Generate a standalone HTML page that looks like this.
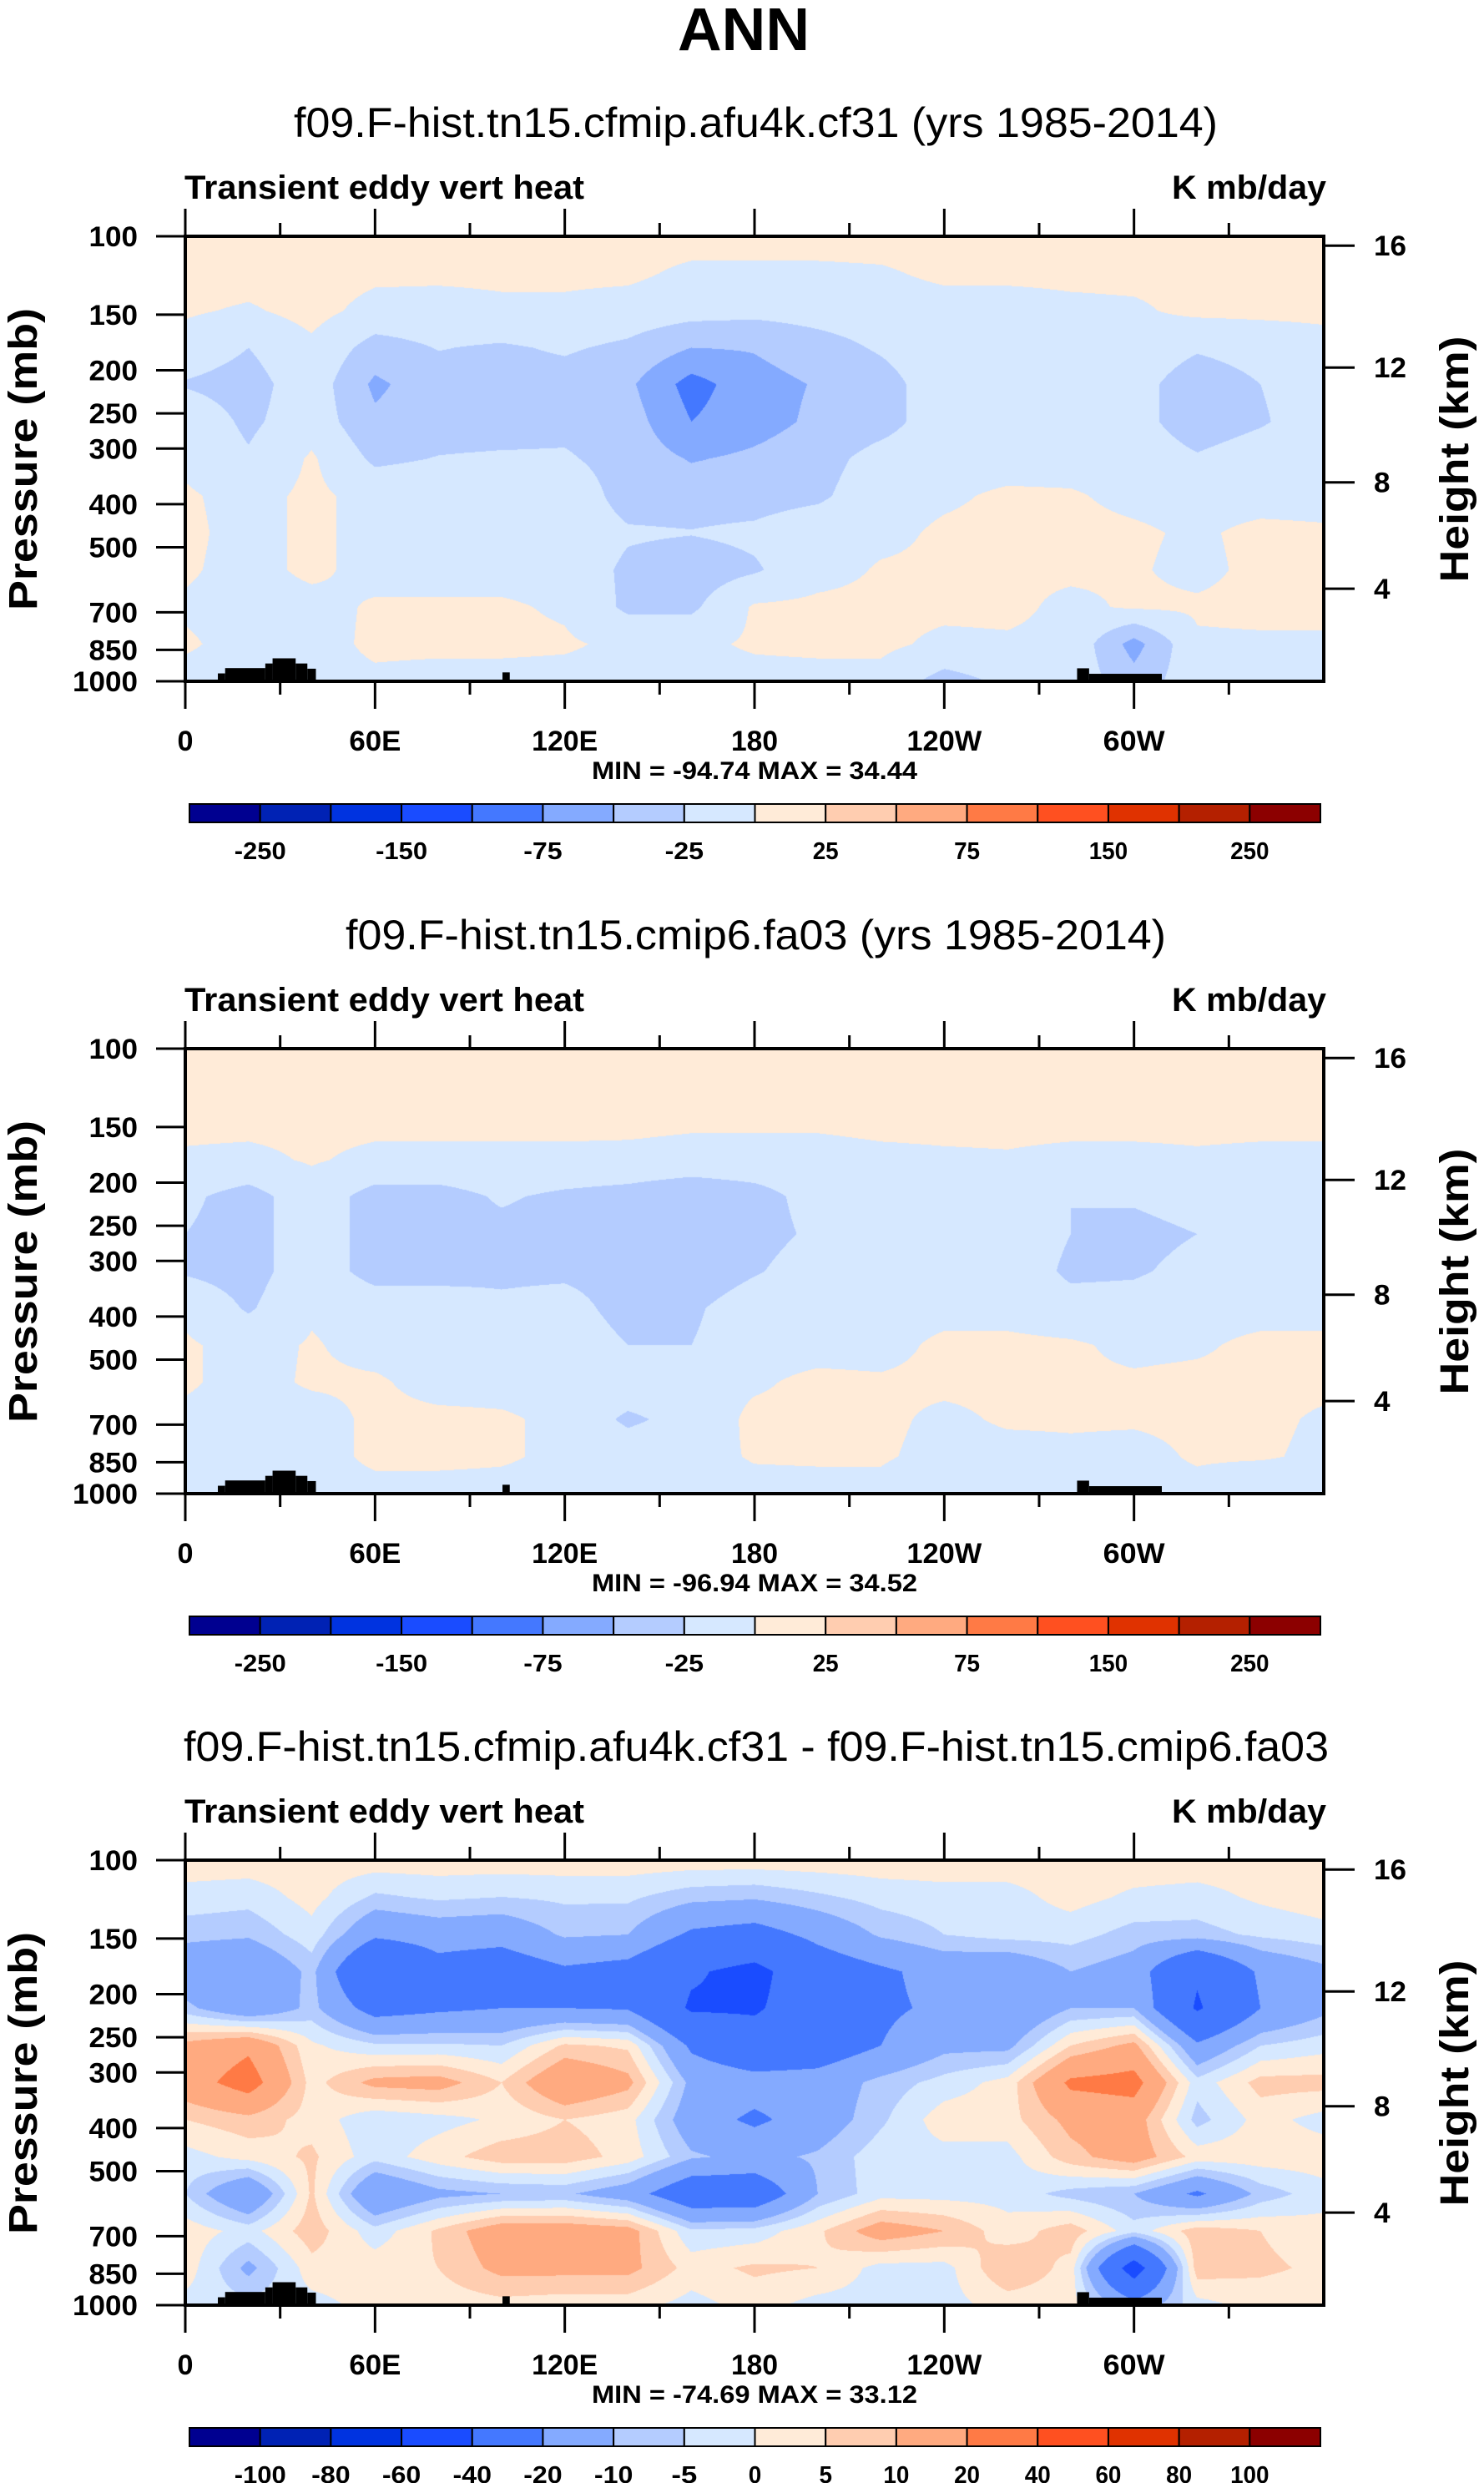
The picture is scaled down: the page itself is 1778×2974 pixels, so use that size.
<!DOCTYPE html>
<html><head><meta charset="utf-8">
<style>
html,body{margin:0;padding:0;background:#fff;}
#root{position:relative;width:1778px;height:2974px;overflow:hidden;background:#fff;}
canvas{position:absolute;}
svg{position:absolute;left:0;top:0;}
</style></head>
<body>
<div id="root">
<canvas id="c0" width="1364" height="533" style="left:222px;top:283px"></canvas>
<canvas id="c1" width="1364" height="533" style="left:222px;top:1256px"></canvas>
<canvas id="c2" width="1364" height="533" style="left:222px;top:2228px"></canvas>
<svg id="ov" width="1778" height="2974" xmlns="http://www.w3.org/2000/svg" font-family="'Liberation Sans', sans-serif">
<text x="891" y="60" text-anchor="middle" font-size="72" font-weight="bold" textLength="158" lengthAdjust="spacingAndGlyphs">ANN</text>
</svg>
</div>
<script>
// ---- data ----
const lons = [0,20,40,60,80,100,120,140,160,180,200,220,240,260,280,300,320,340,360];
const pres = [100,121,147,178,215,261,316,383,464,562,681,825,1000];
const levelsAbs = [-250,-200,-150,-100,-75,-50,-25,0,25,50,75,100,150,200,250];
const levelsDiff = [-100,-80,-60,-40,-20,-10,-5,0,5,10,20,40,60,80,100];
const colors = ["#000090","#0022b4","#0033e0","#1a4cff","#4478ff","#84aaff","#b4ccff","#d6e8ff","#ffebd8","#ffcdb0","#ffaa80","#ff7a45","#ff5020","#e03200","#b42000","#8c0000"];
const field1 = [
[10,10,10,10,10,10,10,10,10,10,10,10,10,10,10,10,10,10,10],
[10,10,10,5,5,5,5,5,-5,-5,-5,-3,5,5,5,5,5,5,10],
[3,-3,8,-8,-10,-5,-5,-10,-15,-18,-15,-12,-10,-10,-5,-3,5,5,5],
[-10,-25,-5,-35,-24,-28,-22,-30,-50,-48,-35,-22,-8,-8,-8,-8,-22,-15,-8],
[-27,-35,-10,-55,-35,-35,-35,-45,-85,-60,-48,-35,-10,-25,-15,-15,-40,-25,-10],
[-8,-30,-10,-45,-35,-35,-32,-38,-75,-60,-45,-35,-10,-10,-15,-15,-40,-28,-10],
[-5,-22,3,-30,-24,-22,-22,-35,-52,-45,-35,-15,-8,-8,-8,-8,-22,-10,-8],
[3,-8,5,-8,-8,-8,-8,-35,-35,-35,-30,-8,-3,3,2,-5,-8,-8,-8],
[5,-8,5,-8,-8,-8,-8,-22,-24,-20,-8,-5,3,5,5,3,-3,5,3],
[3,-8,5,-8,-8,-8,-8,-30,-38,-28,-8,2,3,3,4,2,-5,5,3],
[-3,-8,-8,3,3,3,-3,-30,-30,3,5,5,5,5,-5,3,3,5,5],
[3,-8,-10,5,5,5,3,-5,-5,3,5,5,-5,-3,-5,-60,-3,-3,-3],
[-8,-8,-8,-5,-8,-8,-8,-8,-8,-8,-8,-8,-35,-20,-8,-40,-8,-8,-8]];
const field2 = [
[10,10,10,10,10,10,10,10,10,10,10,10,10,10,10,10,10,10,10],
[10,10,10,10,10,10,10,10,10,10,10,10,10,10,10,10,10,10,10],
[5,5,5,5,5,5,5,5,3,3,3,5,5,5,5,5,5,5,5],
[-3,-5,2,-5,-5,-5,-5,-6,-8,-8,-8,-5,-3,-2,-5,-5,-3,-5,-5],
[-20,-35,-10,-35,-35,-22,-30,-35,-45,-35,-15,-8,-8,-8,-25,-22,-15,-8,-8],
[-25,-35,-10,-35,-35,-32,-35,-45,-50,-35,-20,-8,-8,-8,-25,-32,-25,-8,-8],
[-28,-35,-10,-35,-35,-30,-30,-35,-45,-28,-10,-8,-8,-8,-30,-28,-18,-8,-8],
[-5,-28,-3,-10,-10,-20,-15,-35,-30,-8,-8,-8,-8,-8,-15,-15,-8,-8,-8],
[3,-8,2,-8,-8,-8,-8,-25,-25,-8,-8,-8,5,5,3,-5,-3,5,5],
[3,-8,3,3,-8,-8,-8,-8,-8,-3,5,3,5,5,3,3,5,5,5],
[-5,-8,-10,5,5,3,-5,-30,-15,5,5,5,-5,3,3,3,5,5,-3],
[-3,-8,-10,5,5,3,-5,-8,-8,2,3,3,-8,-8,-5,-8,3,3,-5],
[-8,-8,-8,-8,-8,-8,-8,-8,-8,-8,-8,-8,-25,-15,-8,-8,-8,-25,-8]];
const field3 = [
[3,3,3,3,3,3,3,3,3,3,3,3,3,3,3,3,3,3,3],
[-2,-3,2,-6,-4,-5,-4,-4,-8,-9,-6,-3,-2,-2,2,-1,-2,1,3],
[-8,-9,-2,-18,-15,-16,-9,-10,-22,-25,-17,-9,-5,-3,-3,-7,-7,-4,-2],
[-17,-20,-8,-40,-25,-28,-22,-25,-38,-45,-28,-22,-16,-18,-10,-14,-38,-18,-12],
[-8,-18,-8,-25,-22,-20,-20,-21,-42,-42,-30,-22,-18,-20,-10,-10,-42,-20,-12],
[12,18,1,-4,-4,-5,6,4,-22,-32,-28,-20,-12,-12,5,12,-18,-5,-2],
[15,25,3,12,13,5,18,12,-12,-15,-15,-8,-3,2,22,24,-3,7,7],
[5,8,3,-4,-2,1,5,2,-15,-22,-15,-6,3,3,12,14,-7,2,-2],
[-2,2,6,-3,3,8,8,3,-9,-12,-9,-2,-2,-2,8,14,3,3,3],
[-5,-20,6,-20,-12,-10,-9,-15,-30,-30,-10,-2,-2,-2,-7,-10,-22,-8,-2],
[3,-2,8,-3,6,15,15,13,-4,-3,4,14,10,2,8,-3,8,5,2],
[3,-12,3,3,5,12,12,12,3,6,5,-2,-2,10,3,-50,8,6,4],
[-2,-3,-2,2,2,3,2,2,-2,2,-2,-2,-2,2,2,-15,-2,2,2]];
// topography steps: lon start, lon end, surface pressure
const topoLon0 = [10.3,12.6,25.3,27.6,34.9,38.6,100.3,282,285.8];
const topoLon1 = [12.6,25.3,27.6,34.9,38.6,41.3,102.6,285.8,308.8];
const topoP = [960,934,912,888,912,937,955,935,962];
const xTickLabels = ["0","60E","120E","180","120W","60W"];
const pTicks = [100,150,200,250,300,400,500,700,850,1000];
const hTickLabels = ["16","12","8","4"];
const hTickFrac = [0.021,0.295,0.553,0.792];
const cbLabelsAbs = ["-250","-150","-75","-25","25","75","150","250"];
const cbLabelsDiff = ["-100","-80","-60","-40","-20","-10","-5","0","5","10","20","40","60","80","100"];
const subtitles = ["f09.F-hist.tn15.cfmip.afu4k.cf31 (yrs 1985-2014)","f09.F-hist.tn15.cmip6.fa03 (yrs 1985-2014)","f09.F-hist.tn15.cfmip.afu4k.cf31 - f09.F-hist.tn15.cmip6.fa03"];
const minmax = ["MIN = -94.74  MAX =  34.44","MIN = -96.94  MAX =  34.52","MIN = -74.69  MAX =  33.12"];

// ---- layout ----
const PL=222, PW=1364, PH=533, PT=283;
const offsets=[0,973,1945];
const subW=[1107,983,1372], subX=[352,414,220];
const NS="http://www.w3.org/2000/svg";
const svg=document.getElementById('ov');
function xOf(lon){return PL+lon/360*PW;}
function fracOf(p){return Math.log10(p)-2;}
function mk(tag,attrs,txt){const e=document.createElementNS(NS,tag);for(const k in attrs)e.setAttribute(k,attrs[k]);if(txt!==undefined)e.textContent=txt;svg.appendChild(e);return e;}

function render(ci,field,levels){
  const cv=document.getElementById('c'+ci),ctx=cv.getContext('2d');
  const img=ctx.createImageData(PW,PH),d=img.data;
  const rgb=colors.map(c=>[parseInt(c.substr(1,2),16),parseInt(c.substr(3,2),16),parseInt(c.substr(5,2),16)]);
  const pf=pres.map(fracOf);
  for(let y=0;y<PH;y++){
    const f=(y+0.5)/PH; let r=0; while(r<pf.length-2&&f>pf[r+1])r++;
    const ty=Math.min(1,Math.max(0,(f-pf[r])/(pf[r+1]-pf[r])));
    for(let x=0;x<PW;x++){
      const lon=(x+0.5)/PW*360; let c=0; while(c<lons.length-2&&lon>lons[c+1])c++;
      const tx=(lon-lons[c])/(lons[c+1]-lons[c]);
      const v=(field[r][c]*(1-tx)+field[r][c+1]*tx)*(1-ty)+(field[r+1][c]*(1-tx)+field[r+1][c+1]*tx)*ty;
      let k=0; while(k<levels.length&&v>=levels[k])k++;
      const o=(y*PW+x)*4; d[o]=rgb[k][0];d[o+1]=rgb[k][1];d[o+2]=rgb[k][2];d[o+3]=255;
    }
  }
  ctx.putImageData(img,0,0);
}
render(0,field1,levelsAbs);render(1,field2,levelsAbs);render(2,field3,levelsDiff);

offsets.forEach((off,i)=>{
  const top=PT+off,bot=top+PH,right=PL+PW;
  let e;
  e=mk('text',{x:subX[i],y:164+off,'font-size':50,textLength:subW[i],lengthAdjust:'spacingAndGlyphs'},subtitles[i]);
  
  
  e=mk('text',{x:221,y:238+off,'font-size':40,'font-weight':'bold',textLength:479,lengthAdjust:'spacingAndGlyphs'},'Transient eddy vert heat');
  
  
  e=mk('text',{x:1404,y:238+off,'font-size':40,'font-weight':'bold',textLength:185,lengthAdjust:'spacingAndGlyphs'},'K mb/day');
  
  
  for(let t=0;t<topoP.length;t++){
    const y0=top+fracOf(topoP[t])*PH;
    e=mk('rect',{x:xOf(topoLon0[t]),y:y0,width:xOf(topoLon1[t])-xOf(topoLon0[t]),height:bot-y0,fill:'#000'});
    
    
  }
  e=mk('rect',{x:PL,y:top,width:PW,height:PH,fill:'none',stroke:'#000','stroke-width':4});
  
  
  for(let lon=0;lon<=330;lon+=30){
    const x=xOf(lon),maj=lon%60===0,L=maj?33:16;
    e=mk('line',{x1:x,y1:top,x2:x,y2:top-L,stroke:'#000','stroke-width':3});
    
    
    e=mk('line',{x1:x,y1:bot,x2:x,y2:bot+L,stroke:'#000','stroke-width':3});
    
    
  }
  xTickLabels.forEach((s,j)=>{
    e=mk('text',{x:xOf(j*60),y:899+off,'font-size':34,'font-weight':'bold','text-anchor':'middle',textLength:[19,62,79,56,90,74][j],lengthAdjust:'spacingAndGlyphs'},s);
    
    
  });
  pTicks.forEach(p=>{
    const y=top+fracOf(p)*PH;
    e=mk('line',{x1:187,y1:y,x2:PL,y2:y,stroke:'#000','stroke-width':3});
    
    
    const s=String(p);
    e=mk('text',{x:165,y:y+12,'font-size':34,'font-weight':'bold','text-anchor':'end',textLength:s.length*19.5,lengthAdjust:'spacingAndGlyphs'},s);
    
    
  });
  hTickLabels.forEach((s,j)=>{
    const y=top+hTickFrac[j]*PH;
    e=mk('line',{x1:right,y1:y,x2:1623,y2:y,stroke:'#000','stroke-width':3});
    
    
    e=mk('text',{x:1646,y:y+12,'font-size':34,'font-weight':'bold',textLength:s.length*19.5,lengthAdjust:'spacingAndGlyphs'},s);
    
    
  });
  e=mk('text',{x:0,y:0,'font-size':48,'font-weight':'bold','text-anchor':'middle',transform:`translate(44,${550+off}) rotate(-90)`,textLength:362,lengthAdjust:'spacingAndGlyphs'},'Pressure (mb)');
  
  
  e=mk('text',{x:0,y:0,'font-size':48,'font-weight':'bold','text-anchor':'middle',transform:`translate(1759,${550+off}) rotate(-90)`,textLength:295,lengthAdjust:'spacingAndGlyphs'},'Height (km)');
  
  
  e=mk('text',{x:904,y:933+off,'font-size':30,'font-weight':'bold','text-anchor':'middle',textLength:390,lengthAdjust:'spacingAndGlyphs','xml:space':'preserve'},minmax[i]);
  
  
  const cbL=227,cbW=1355,bw=cbW/16,cbT=963+off;
  for(let k=0;k<16;k++){
    e=mk('rect',{x:cbL+k*bw,y:cbT,width:bw,height:22,fill:colors[k],stroke:'#000','stroke-width':2});
    
    
  }
  if(i<2){
    cbLabelsAbs.forEach((s,j)=>{
      e=mk('text',{x:cbL+(2*j+1)*bw,y:1029+off,'font-size':29,'font-weight':'bold','text-anchor':'middle',textLength:s.length*15.5,lengthAdjust:'spacingAndGlyphs'},s);
      
      
    });
  } else {
    cbLabelsDiff.forEach((s,j)=>{
      e=mk('text',{x:cbL+(j+1)*bw,y:1029+off,'font-size':29,'font-weight':'bold','text-anchor':'middle',textLength:s.length*15.5,lengthAdjust:'spacingAndGlyphs'},s);
      
      
    });
  }
});
</script>
</body></html>
